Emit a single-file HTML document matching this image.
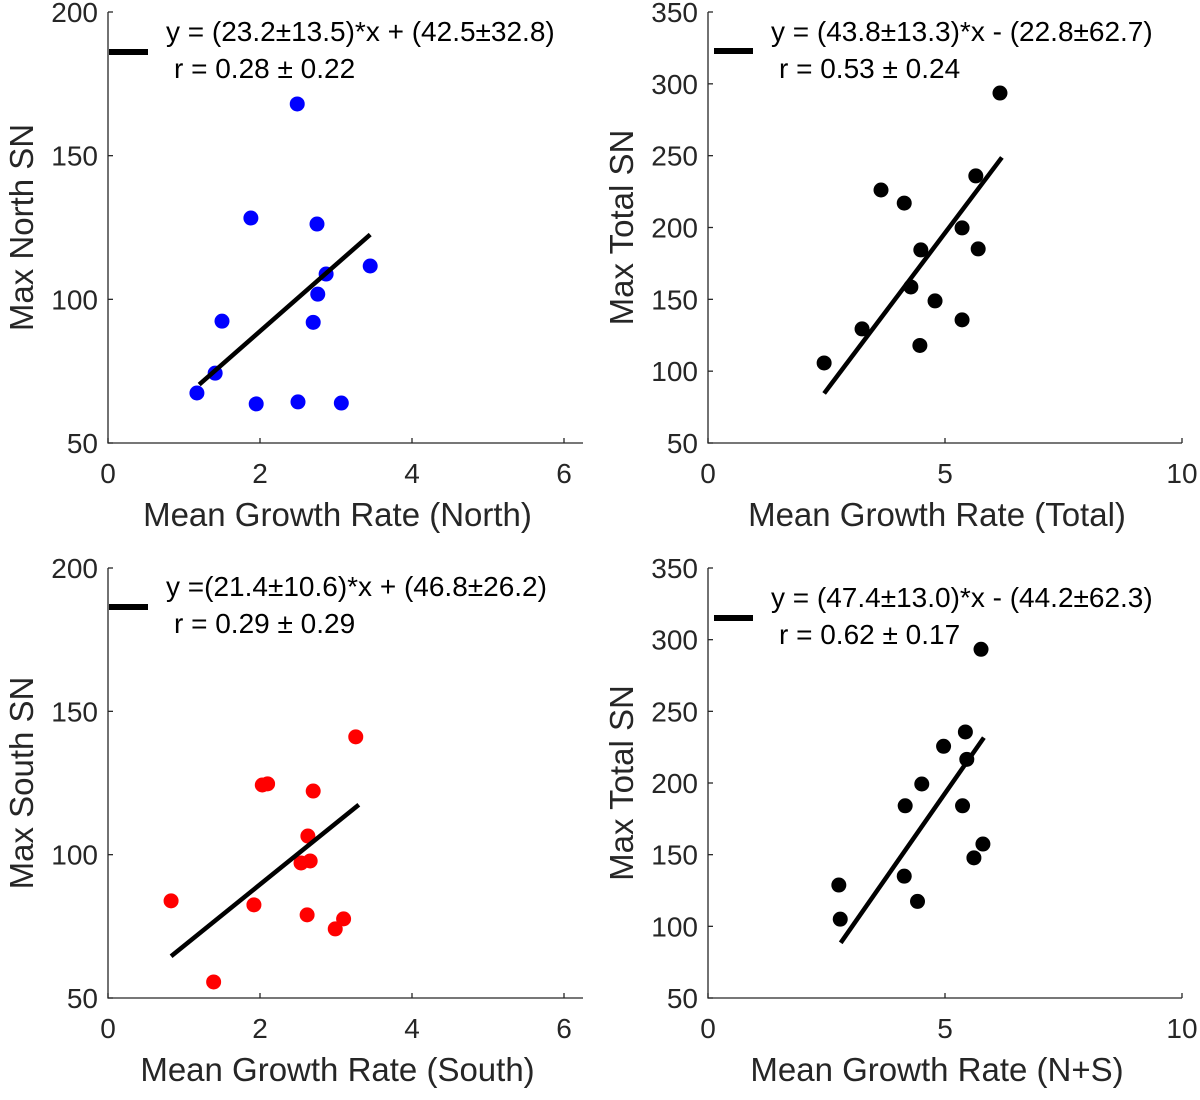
<!DOCTYPE html>
<html><head><meta charset="utf-8"><style>
body{margin:0;background:#fff;}
svg text{font-family:"Liberation Sans",Arial,sans-serif;}
</style></head><body>
<svg id="fig" width="1200" height="1095" viewBox="0 0 1200 1095" xmlns="http://www.w3.org/2000/svg"></svg>
<script>
// Panel 1: North
const northX = [1.17,1.41,1.5,1.88,1.95,2.49,2.5,2.7,2.76,2.75,2.87,3.07,3.45];
const northY = [67.4,74.3,92.4,128.3,63.6,168,64.3,92,101.8,126.2,108.8,63.9,111.6];
// Panel 2: Total
const totalX = [2.45,3.25,3.65,4.14,4.49,4.28,4.79,4.47,5.36,5.65,5.70,5.36,6.16];
const totalY = [105.7,129.4,226.1,217,184.4,158.6,148.9,117.9,199.7,235.9,185.1,135.7,293.6];
// Panel 3: South
const southX = [0.83,1.39,1.92,2.03,2.1,2.7,2.63,2.66,2.54,2.62,2.99,3.1,3.26];
const southY = [83.9,55.6,82.5,124.3,124.7,122.2,106.5,97.8,97.1,79,74.1,77.6,141.1];
// Panel 4: N+S
const nsX = [2.76,2.79,4.14,4.42,4.16,4.51,4.97,5.43,5.46,5.37,5.76,5.8,5.61];
const nsY = [128.8,105,135,117.4,184.1,199.3,225.6,235.6,216.5,184.1,293.3,157.4,147.8];
// Fit coefficients [slope, intercept, xStart, xEnd]
const fitNorth = [23.2,42.5,1.2,3.45];
const fitTotal = [43.8,-22.8,2.45,6.2];
const fitSouth = [21.4,46.8,0.83,3.3];
const fitNS = [47.4,-44.2,2.8,5.82];
// Tick labels
const ticksSmallX = [0,2,4,6];
const ticksBigX = [0,5,10];
const ticksSmallY = [50,100,150,200];
const ticksBigY = [50,100,150,200,250,300,350];

const NS='http://www.w3.org/2000/svg';
const svg=document.getElementById('fig');
function mk(tag,attrs,parent){const e=document.createElementNS(NS,tag);for(const k in attrs)e.setAttribute(k,attrs[k]);(parent||svg).appendChild(e);return e;}

function panel(o){
  const g=mk('g',{});
  
  
  const sx=v=>o.x0+(v-o.xmin)/(o.xmax-o.xmin)*(o.x1-o.x0);
  const sy=v=>o.y0-(v-o.ymin)/(o.ymax-o.ymin)*(o.y0-o.y1);
  const axes=mk('path',{d:`M${o.x0} ${o.y1}V${o.y0}H${o.x1}`,stroke:'#262626','stroke-width':1.3,fill:'none'},g);
  
  
  o.xt.forEach(t=>{
    const x=sx(t);
    mk('line',{x1:x,x2:x,y1:o.y0,y2:o.y0-5,stroke:'#262626','stroke-width':1.3},g);
    const tx=mk('text',{x:x,y:o.y0+40,'text-anchor':'middle','font-size':28,fill:'#262626'},g);
    tx.textContent=t;
    
    
  });
  o.yt.forEach(t=>{
    const y=sy(t);
    mk('line',{x1:o.x0,x2:o.x0+5,y1:y,y2:y,stroke:'#262626','stroke-width':1.3},g);
    const tx=mk('text',{x:o.x0-10,y:y+10,'text-anchor':'end','font-size':28,fill:'#262626'},g);
    tx.textContent=t;
    
    
  });
  const xl=mk('text',{x:(o.x0+o.x1)/2-8,y:o.y0+83,'text-anchor':'middle','font-size':33,fill:'#262626'},g);
  xl.textContent=o.xlabel;
  
  
  const cy=(o.y0+o.y1)/2;
  const yl=mk('text',{x:o.x0-75,y:cy,'text-anchor':'middle','font-size':33,fill:'#262626',transform:`rotate(-90 ${o.x0-75} ${cy})`},g);
  yl.textContent=o.ylabel;
  
  
  o.px.forEach((v,i)=>{
    const c=mk('circle',{cx:sx(v),cy:sy(o.py[i]),r:7.5,fill:o.color},g);
    
    
  });
  const f=o.fit;
  const fl=mk('line',{x1:sx(f[2]),y1:sy(f[0]*f[2]+f[1]),x2:sx(f[3]),y2:sy(f[0]*f[3]+f[1]),stroke:'#000','stroke-width':4.5},g);
  
  
  const ll=mk('line',{x1:o.x0+1+o.lgx,x2:o.x0+40+o.lgx,y1:o.lgy,y2:o.lgy,stroke:'#000','stroke-width':6},g);
  
  
  const e1=mk('text',{x:o.x0+58+o.lgx,y:o.lgy+o.eqdy,'font-size':28,fill:'#000'},g);
  e1.textContent=o.eq;
  
  
  const e2=mk('text',{x:o.x0+66+o.lgx,y:o.lgy+o.eqdy+37,'font-size':28,fill:'#000'},g);
  e2.textContent=o.rr;
  
  
}

panel({name:'north-panel',x0:108,x1:583,y0:443,y1:12,xmin:0,xmax:6.25,ymin:50,ymax:200,xt:ticksSmallX,yt:ticksSmallY,
  xlabel:'Mean Growth Rate (North)',ylabel:'Max North SN',px:northX,py:northY,color:'#0000ff',fit:fitNorth,
  lgx:0,lgy:52,eqdy:-11,eq:'y = (23.2±13.5)*x + (42.5±32.8)',rr:'r = 0.28 ± 0.22'});
panel({name:'total-panel',x0:708,x1:1182,y0:443,y1:12,xmin:0,xmax:10,ymin:50,ymax:350,xt:ticksBigX,yt:ticksBigY,
  xlabel:'Mean Growth Rate (Total)',ylabel:'Max Total SN',px:totalX,py:totalY,color:'#000',fit:fitTotal,
  lgx:5,lgy:51,eqdy:-10,eq:'y = (43.8±13.3)*x - (22.8±62.7)',rr:'r = 0.53 ± 0.24'});
panel({name:'south-panel',x0:108,x1:583,y0:998,y1:568,xmin:0,xmax:6.25,ymin:50,ymax:200,xt:ticksSmallX,yt:ticksSmallY,
  xlabel:'Mean Growth Rate (South)',ylabel:'Max South SN',px:southX,py:southY,color:'#ff0000',fit:fitSouth,
  lgx:0,lgy:607,eqdy:-11,eq:'y =(21.4±10.6)*x + (46.8±26.2)',rr:'r = 0.29 ± 0.29'});
panel({name:'ns-panel',x0:708,x1:1182,y0:998,y1:568,xmin:0,xmax:10,ymin:50,ymax:350,xt:ticksBigX,yt:ticksBigY,
  xlabel:'Mean Growth Rate (N+S)',ylabel:'Max Total SN',px:nsX,py:nsY,color:'#000',fit:fitNS,
  lgx:5,lgy:618,eqdy:-11,eq:'y = (47.4±13.0)*x - (44.2±62.3)',rr:'r = 0.62 ± 0.17'});
</script>
</body></html>
